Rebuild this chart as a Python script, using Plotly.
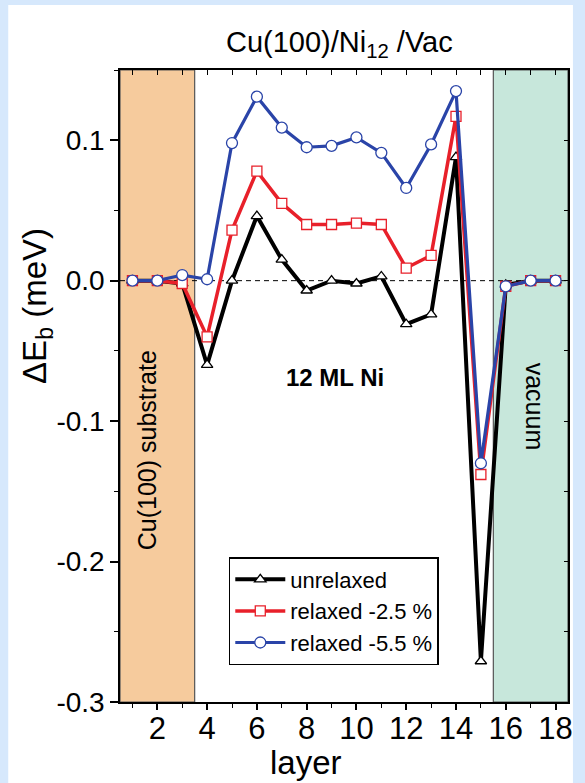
import plotly.graph_objects as go

# ---- data ----
layers = list(range(1, 19))
unrelaxed = [0.0, 0.0, -0.002, -0.060, 0.0, 0.046, 0.015, -0.007, 0.0, -0.002,
             0.003, -0.031, -0.024, 0.088, -0.271, -0.003, 0.0, 0.0]
relaxed_25 = [0.0, 0.0, -0.002, -0.040, 0.036, 0.078, 0.055, 0.040, 0.040, 0.041,
              0.040, 0.009, 0.018, 0.117, -0.138, -0.004, 0.0, 0.0]
relaxed_55 = [0.0, 0.0, 0.004, 0.001, 0.098, 0.131, 0.109, 0.095, 0.096, 0.102,
              0.091, 0.066, 0.097, 0.135, -0.130, -0.004, 0.0, 0.0]
series_names = ["unrelaxed", "relaxed -2.5 %", "relaxed -5.5 %"]
x_tick_vals = [2, 4, 6, 8, 10, 12, 14, 16, 18]
y_tick_vals = [0.1, 0.0, -0.1, -0.2, -0.3]
y_tick_text = ["0.1", "0.0", "-0.1", "-0.2", "-0.3"]
substrate_range = [0.5, 3.5]
vacuum_range = [15.5, 18.5]

FONT = "Arial, Liberation Sans, Helvetica, sans-serif"
W, H = 585, 783
ML, MR, MT, MB = 120, 12, 70, 81
PW, PH = W - ML - MR, H - MT - MB


def px2paper_x(px):
    return (px - ML) / PW


def px2paper_y(py):
    return (H - MB - py) / PH


fig = go.Figure()

styles = [
    dict(color="#000000", width=4.0, symbol="triangle-up", size=10),
    dict(color="#e8202a", width=3.5, symbol="square", size=10),
    dict(color="#2a44a8", width=3.2, symbol="circle", size=11),
]
for name, ys, st in zip(series_names, [unrelaxed, relaxed_25, relaxed_55], styles):
    fig.add_trace(go.Scatter(
        x=layers, y=ys, name=name, mode="lines+markers",
        line=dict(color=st["color"], width=st["width"]),
        marker=dict(symbol=st["symbol"], size=st["size"], color="white",
                    line=dict(color=st["color"], width=1.3)),
        hoverinfo="skip",
    ))

# invisible trace that makes the mirrored (inside-tick) axes exist
fig.add_trace(go.Scatter(x=layers[:1], y=unrelaxed[:1], xaxis="x2", yaxis="y2",
                         mode="markers", marker=dict(opacity=0, size=1),
                         showlegend=False, hoverinfo="skip"))

shapes = [
    # white inner panel
    dict(type="rect", xref="paper", yref="paper", layer="below",
         x0=px2paper_x(7), x1=px2paper_x(578), y0=px2paper_y(783), y1=px2paper_y(5),
         fillcolor="white", line=dict(width=0)),
    dict(type="rect", xref="x", yref="paper", layer="below",
         x0=substrate_range[0], x1=substrate_range[1], y0=0, y1=1,
         fillcolor="#f6cb9d", line=dict(color="#555555", width=1.2)),
    dict(type="rect", xref="x", yref="paper", layer="below",
         x0=vacuum_range[0], x1=vacuum_range[1], y0=0, y1=1,
         fillcolor="#c7e7db", line=dict(color="#555555", width=1.2)),
    dict(type="line", xref="paper", yref="y", layer="below",
         x0=0, x1=1, y0=0, y1=0,
         line=dict(color="black", width=1, dash="5px,4px")),
]

annotations = [
    dict(text="Cu(100)/Ni<sub>12</sub> /Vac", xref="paper", yref="paper",
         x=px2paper_x(342), y=px2paper_y(44), xanchor="center", yanchor="middle",
         showarrow=False, font=dict(family=FONT, size=29, color="black")),
    dict(text="ΔE<sub>b</sub> (meV)", xref="paper", yref="paper",
         x=px2paper_x(36), y=px2paper_y(306), xanchor="center", yanchor="middle",
         textangle=-90, showarrow=False, font=dict(family=FONT, size=33, color="black")),
    dict(text="layer", xref="paper", yref="paper",
         x=px2paper_x(308), y=px2paper_y(762), xanchor="center", yanchor="middle",
         showarrow=False, font=dict(family=FONT, size=33, color="black")),
    dict(text="Cu(100) substrate", xref="x", yref="y",
         x=1.57, y=-0.121, textangle=-90, showarrow=False,
         font=dict(family=FONT, size=25, color="black")),
    dict(text="vacuum", xref="x", yref="y",
         x=17.19, y=-0.090, textangle=90, showarrow=False,
         font=dict(family=FONT, size=25, color="black")),
    dict(text="<b>12 ML Ni</b>", xref="x", yref="y",
         x=9.12, y=-0.0686, showarrow=False,
         font=dict(family=FONT, size=24, color="black")),
]

fig.update_layout(
    width=W, height=H,
    margin=dict(l=ML, r=MR, t=MT, b=MB, pad=0),
    paper_bgcolor="#d6e8fc",
    plot_bgcolor="white",
    font=dict(family=FONT, color="black"),
    showlegend=True,
    legend=dict(
        x=px2paper_x(230), y=px2paper_y(557), xanchor="left", yanchor="top",
        bgcolor="white", bordercolor="black", borderwidth=1.5,
        font=dict(family=FONT, size=22, color="black"),
        itemwidth=50, tracegroupgap=0,
    ),
    shapes=shapes,
    annotations=annotations,
    xaxis=dict(
        range=[0.5, 18.5], tickvals=x_tick_vals, ticks="outside", ticklen=6,
        tickwidth=1.5, tickcolor="black",
        showline=True, linecolor="black", linewidth=2, mirror=False,
        showgrid=False, zeroline=False, ticklabelstandoff=-8,
        tickfont=dict(family=FONT, size=31, color="black"),
        minor=dict(ticks="outside", ticklen=4, tickwidth=1.3, tickcolor="black",
                   dtick=1, tick0=1, showgrid=False),
    ),
    yaxis=dict(
        range=[-0.3, 0.15], tickvals=y_tick_vals, ticktext=y_tick_text,
        ticks="outside", ticklen=8, tickwidth=1.5, tickcolor="black",
        showline=True, linecolor="black", linewidth=1.5, mirror=False,
        showgrid=False, zeroline=False,
        tickfont=dict(family=FONT, size=28, color="black"),
        minor=dict(ticks="outside", ticklen=4, tickwidth=1.3, tickcolor="black",
                   dtick=0.05, tick0=0, showgrid=False),
    ),
    xaxis2=dict(
        overlaying="x", side="top", anchor="y", range=[0.5, 18.5],
        dtick=1, tick0=1, ticks="inside", ticklen=5, tickwidth=1.3, tickcolor="black",
        showticklabels=False, showgrid=False, zeroline=False,
        showline=True, linecolor="black", linewidth=1.5,
    ),
    yaxis2=dict(
        overlaying="y", side="right", anchor="x", range=[-0.3, 0.15],
        dtick=0.05, tick0=0, ticks="inside", ticklen=4, tickwidth=1.3, tickcolor="black",
        showticklabels=False, showgrid=False, zeroline=False,
        showline=True, linecolor="black", linewidth=1.5,
    ),
)

fig.write_html("out.html")
